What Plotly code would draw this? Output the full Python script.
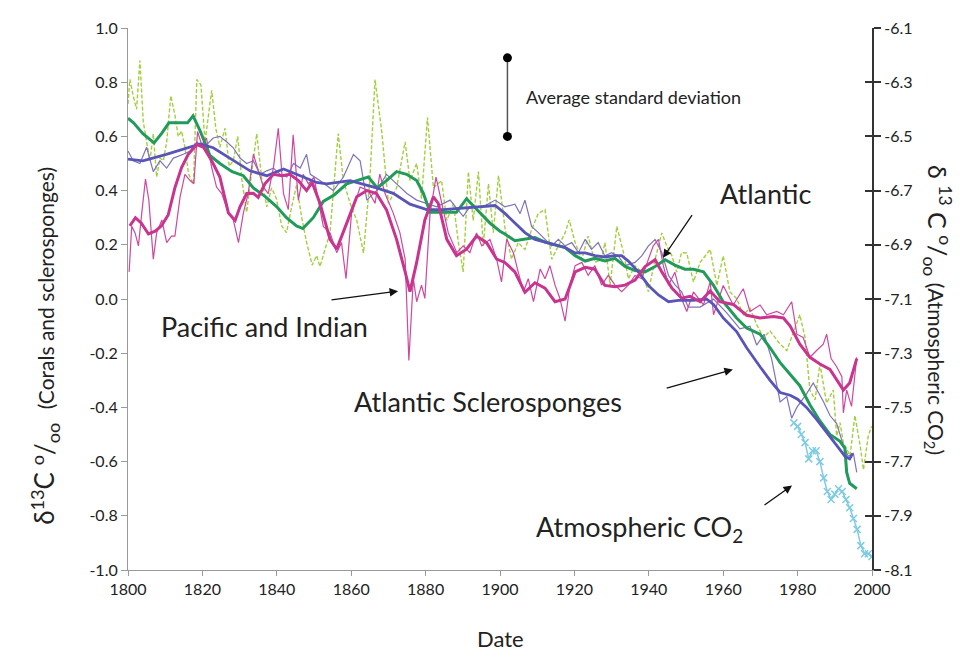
import plotly.graph_objects as go

# ---------------- data ----------------
atl_raw_years = [1800.0, 1800.5, 1801.4, 1802.3, 1803.2, 1804.1, 1805.0, 1805.9, 1806.8, 1807.7,
                 1808.6, 1809.5, 1810.4, 1811.5, 1812.6, 1813.5, 1814.4, 1815.3, 1816.3, 1817.6,
                 1818.5, 1819.6, 1820.7, 1821.6, 1822.5, 1823.6, 1824.7, 1826.1, 1827.2, 1828.3,
                 1829.5, 1830.6, 1831.9, 1833.2, 1834.6, 1835.9, 1837.3, 1838.6, 1839.9, 1841.3,
                 1842.6, 1844.0, 1845.3, 1846.7, 1848.0, 1849.5, 1850.7, 1851.6, 1854.3, 1856.5,
                 1857.9, 1859.7, 1861.5, 1863.3, 1865.0, 1866.4, 1868.2, 1870.0, 1872.2, 1874.5,
                 1875.8, 1877.6, 1878.9, 1880.5, 1882.1, 1884.3, 1885.7, 1887.5, 1888.8, 1890.1,
                 1891.5, 1892.8, 1894.2, 1895.5, 1896.9, 1898.2, 1899.6, 1901.4, 1903.1, 1904.9,
                 1906.7, 1908.5, 1910.3, 1912.1, 1913.9, 1915.7, 1917.5, 1918.6, 1920.2, 1922.0,
                 1923.7, 1925.5, 1927.3, 1928.2, 1929.6, 1931.4, 1933.2, 1934.5, 1936.3, 1938.1,
                 1939.9, 1941.7, 1943.5, 1944.8, 1946.2, 1947.5, 1948.8, 1950.2, 1952.0, 1953.8,
                 1956.5, 1958.3, 1960.0, 1961.8, 1963.6, 1965.4, 1967.2, 1969.0, 1970.8, 1972.6,
                 1975.3, 1977.1, 1978.9, 1980.6, 1982.0, 1983.3, 1984.7, 1986.0, 1987.8, 1989.6,
                 1990.5, 1991.4, 1992.3, 1994.1, 1995.4, 1996.8, 1997.7, 1999.0, 1999.9]
atl_raw_vals = [0.72, 0.81, 0.75, 0.70, 0.88, 0.655, 0.58, 0.51, 0.61, 0.45,
                0.52, 0.51, 0.58, 0.75, 0.68, 0.60, 0.62, 0.56, 0.46, 0.425,
                0.81, 0.79, 0.58, 0.68, 0.77, 0.63, 0.56, 0.63, 0.49, 0.51,
                0.60, 0.44, 0.32, 0.46, 0.61, 0.45, 0.34, 0.41, 0.37, 0.27,
                0.245, 0.34, 0.42, 0.30, 0.21, 0.125, 0.16, 0.12, 0.245, 0.61,
                0.437, 0.353, 0.29, 0.17, 0.437, 0.81, 0.62, 0.353, 0.41, 0.58,
                0.437, 0.50, 0.37, 0.67, 0.41, 0.437, 0.29, 0.353, 0.21, 0.10,
                0.47, 0.29, 0.47, 0.196, 0.425, 0.245, 0.455, 0.256, 0.147, 0.208,
                0.183, 0.256, 0.316, 0.33, 0.147, 0.196, 0.244, 0.292, 0.208, 0.147,
                0.232, 0.135, 0.147, 0.208, 0.051, 0.268, 0.171, 0.075, 0.123, 0.099,
                0.027, 0.147, 0.244, 0.196, 0.16, 0.099, 0.171, 0.17, 0.063, 0.135,
                0.183, 0.05, 0.159, 0.026, 0.002, -0.058, -0.034, -0.094, -0.142, -0.118,
                -0.167, -0.19, -0.118, -0.058, -0.142, -0.336, -0.372, -0.24, -0.384, -0.336,
                -0.505, -0.456, -0.53, -0.578, -0.43, -0.54, -0.63, -0.505, -0.47]

atl_smooth_years = [1800, 1801.5, 1804, 1807, 1809, 1811, 1814, 1816, 1817.5, 1819.4,
                    1822, 1824.7, 1828, 1831, 1833.7, 1837, 1840, 1842.6, 1845.3, 1847,
                    1849.8, 1852.5, 1855.5, 1858.8, 1861.5, 1864.6, 1867, 1869.5, 1872.2, 1874.9,
                    1877.6, 1879.4, 1881.2, 1884.8, 1888.3, 1891, 1893.7, 1897.3, 1900, 1901.3,
                    1904, 1906.7, 1909.4, 1912.1, 1914.8, 1917.5, 1920.2, 1922.9, 1925.5, 1928.2,
                    1930.9, 1933.6, 1936.3, 1939, 1941.7, 1944.4, 1947, 1949.7, 1952, 1954.7,
                    1957.4, 1960, 1963.6, 1966.3, 1969.9, 1972.6, 1975.3, 1978, 1980.6, 1983.3,
                    1986, 1988.7, 1991.4, 1992.7, 1993.2, 1994, 1995.9]
atl_smooth_vals = [0.667, 0.65, 0.61, 0.576, 0.61, 0.65, 0.65, 0.65, 0.676, 0.62,
                   0.53, 0.50, 0.47, 0.455, 0.41, 0.377, 0.34, 0.30, 0.27, 0.26,
                   0.30, 0.36, 0.385, 0.425, 0.437, 0.45, 0.41, 0.437, 0.47, 0.46,
                   0.437, 0.39, 0.32, 0.32, 0.32, 0.37, 0.33, 0.28, 0.25, 0.24,
                   0.215, 0.22, 0.227, 0.21, 0.20, 0.19, 0.16, 0.14, 0.15, 0.14,
                   0.15, 0.12, 0.105, 0.10, 0.12, 0.145, 0.125, 0.11, 0.11, 0.10,
                   0.05, -0.01, -0.07, -0.107, -0.13, -0.18, -0.235, -0.28, -0.32, -0.39,
                   -0.45, -0.50, -0.525, -0.55, -0.64, -0.68, -0.70]

scl_raw_years = [1800, 1801.4, 1803.2, 1805, 1806.8, 1808.6, 1810.4, 1812.2, 1814.9, 1816.7,
                 1818.5, 1820.3, 1822.9, 1824.7, 1826.5, 1828.3, 1830.1, 1831.9, 1833.7, 1835.5,
                 1837.3, 1839.1, 1840.9, 1842.7, 1844.5, 1846.3, 1848.0, 1849.0, 1851.6, 1855.2,
                 1857.9, 1860.6, 1862.4, 1864.2, 1866.8, 1869.5, 1872.2, 1874.9, 1877.6, 1880.3,
                 1883, 1886.6, 1890.1, 1891.9, 1895.5, 1898.7, 1901.3, 1904, 1905.4, 1906.7,
                 1908.5, 1910.3, 1912.1, 1913.9, 1915.7, 1917.5, 1919.3, 1921.1, 1922.9, 1924.6,
                 1926.4, 1928.2, 1930.0, 1931.8, 1933.6, 1936.3, 1938.1, 1939.9, 1941.7, 1943.5,
                 1945.3, 1947.1, 1948.8, 1950.6, 1953.8, 1957.4, 1960.9, 1964.5, 1967.2, 1969,
                 1971, 1973, 1975.3, 1977.1, 1978.4, 1979.8, 1982.4, 1984.2, 1987.0, 1988.7,
                 1990.5, 1992.3, 1993.6, 1995, 1995.9]
scl_raw_vals = [0.546, 0.51, 0.50, 0.56, 0.47, 0.51, 0.483, 0.52, 0.534, 0.546,
                0.58, 0.558, 0.594, 0.60, 0.58, 0.558, 0.52, 0.50, 0.51, 0.46,
                0.473, 0.483, 0.46, 0.45, 0.50, 0.483, 0.534, 0.46, 0.437, 0.40,
                0.45, 0.533, 0.51, 0.365, 0.40, 0.46, 0.425, 0.39, 0.365, 0.353,
                0.34, 0.365, 0.305, 0.34, 0.34, 0.365, 0.34, 0.35, 0.315, 0.365,
                0.268, 0.245, 0.22, 0.196, 0.22, 0.196, 0.208, 0.171, 0.22, 0.183,
                0.208, 0.159, 0.171, 0.159, 0.123, 0.135, 0.159, 0.196, 0.22, 0.171,
                0.087, 0.051, 0.027, -0.03, -0.03, 0.0, -0.05, -0.11, -0.10, -0.17,
                -0.13, -0.22, -0.38, -0.36, -0.44, -0.40, -0.35, -0.31, -0.38, -0.43,
                -0.46, -0.54, -0.58, -0.57, -0.64]

scl_smooth_years = [1800, 1804, 1810.3, 1815.8, 1819.4, 1822.9, 1828.3, 1832.8, 1837.3, 1841.8,
                    1846.3, 1850.7, 1853.4, 1859.7, 1866.8, 1871.3, 1875.8, 1880.3, 1884.8, 1889.2,
                    1893.7, 1898.7, 1901.4, 1904, 1906.7, 1909.4, 1912.1, 1914.8, 1917.5, 1920.2,
                    1922.9, 1925.5, 1928.2, 1930.9, 1932.7, 1934.5, 1937.2, 1939.9, 1942.6, 1945.3,
                    1948, 1951.9, 1955.5, 1957.4, 1960, 1963.6, 1966.3, 1969.9, 1972.6, 1975.3,
                    1978, 1980, 1982.4, 1985.1, 1987.8, 1990.5, 1992.7, 1994, 1994.8]
scl_smooth_vals = [0.516, 0.51, 0.534, 0.558, 0.572, 0.558, 0.51, 0.473, 0.455, 0.48,
                   0.455, 0.43, 0.425, 0.437, 0.41, 0.39, 0.35, 0.33, 0.33, 0.335,
                   0.34, 0.345, 0.315, 0.28, 0.245, 0.22, 0.21, 0.20, 0.19, 0.17,
                   0.17, 0.16, 0.155, 0.16, 0.16, 0.14, 0.10, 0.05, 0.015, -0.01,
                   -0.005, -0.005, 0.0, -0.02, -0.07, -0.12, -0.18, -0.25, -0.30, -0.345,
                   -0.355, -0.37, -0.40, -0.444, -0.49, -0.54, -0.58, -0.59, -0.57]

pac_raw_years = [1800.3, 1801.0, 1801.9, 1802.8, 1803.7, 1804.7, 1805.6, 1806.8, 1807.7, 1809.1,
                 1810.4, 1811.7, 1812.6, 1814.0, 1815.3, 1816.7, 1817.7, 1818.7, 1819.8, 1821.1,
                 1822.5, 1823.8, 1825.2, 1827.0, 1828.3, 1829.7, 1831.0, 1832.3, 1833.7, 1835.0,
                 1836.4, 1837.7, 1839.1, 1840.4, 1841.8, 1843.1, 1844.4, 1845.8, 1847.1, 1848.5,
                 1850.0, 1852.5, 1854.3, 1856.1, 1857.4, 1858.6, 1860.1, 1862.4, 1864.6, 1866.4,
                 1867.7, 1869.1, 1871.3, 1873.1, 1874.5, 1875.5, 1876.7, 1877.6, 1878.9, 1879.8,
                 1881.2, 1882.8, 1884.3, 1886.1, 1888.4, 1890.1, 1891.9, 1893.7, 1895.1, 1897.3,
                 1899.1, 1900.4, 1901.8, 1903.6, 1904.9, 1906.3, 1907.6, 1909.0, 1910.8, 1912.1,
                 1913.4, 1914.8, 1916.1, 1917.5, 1918.8, 1920.2, 1922.0, 1923.7, 1925.5, 1927.3,
                 1929.1, 1930.9, 1932.7, 1934.5, 1936.3, 1938.1, 1939.9, 1941.2, 1942.6, 1943.9,
                 1945.3, 1947.0, 1948.8, 1950.2, 1952.0, 1954.7, 1956.5, 1957.4, 1960.0, 1962.7,
                 1965.4, 1967.2, 1969.9, 1971.7, 1974.4, 1976.2, 1978.4, 1979.8, 1981.5, 1983.3,
                 1985.1, 1986.9, 1987.8, 1989.0, 1990.5, 1991.9, 1992.3, 1993.2, 1994.5, 1995.9]
pac_raw_vals = [0.10, 0.268, 0.244, 0.196, 0.317, 0.443, 0.365, 0.147, 0.244, 0.292,
                0.208, 0.232, 0.232, 0.377, 0.46, 0.437, 0.425, 0.618, 0.57, 0.594,
                0.485, 0.413, 0.389, 0.317, 0.292, 0.208, 0.317, 0.389, 0.534, 0.473,
                0.413, 0.389, 0.485, 0.63, 0.389, 0.33, 0.606, 0.365, 0.46, 0.425,
                0.45, 0.268, 0.244, 0.171, 0.208, 0.075, 0.317, 0.413, 0.40, 0.353,
                0.461, 0.389, 0.317, 0.244, 0.147, -0.227, 0.075, -0.01, 0.051, 0.002,
                0.317, 0.45, 0.353, 0.244, 0.171, 0.196, 0.171, 0.244, 0.196, 0.22,
                0.147, 0.063, 0.22, 0.171, 0.099, 0.027, 0.075, -0.01, 0.111, 0.075,
                0.123, 0.051, 0.002, -0.082, 0.051, 0.123, 0.135, 0.087, 0.123, 0.051,
                0.087, 0.051, 0.027, 0.051, 0.087, 0.075, 0.147, 0.196, 0.22, 0.123,
                0.051, 0.099, 0.002, -0.046, 0.026, -0.022, 0.063, -0.058, 0.05, -0.022,
                0.038, -0.046, -0.022, -0.058, -0.046, -0.058, -0.01, -0.13, -0.142, -0.215,
                -0.19, -0.167, -0.13, -0.22, -0.25, -0.287, -0.42, -0.336, -0.396, -0.215]

pac_smooth_years = [1800.5, 1802, 1803.6, 1805.5, 1807.3, 1809, 1810.8, 1812.6, 1814.4, 1816.2,
                    1818.5, 1820.3, 1822.5, 1824.7, 1827, 1828.8, 1830.1, 1831.9, 1833.7, 1835,
                    1836.8, 1839.1, 1841.3, 1843.5, 1845.8, 1848, 1849.5, 1851.6, 1854.3, 1856.1,
                    1858.8, 1861.5, 1864.2, 1866.8, 1869.5, 1872.2, 1874.5, 1875.8, 1877.6, 1879.8,
                    1882.1, 1883.4, 1885.7, 1888.3, 1891.0, 1893.7, 1896.4, 1899.1, 1901.3, 1904.0,
                    1906.7, 1909.4, 1912.1, 1914.8, 1917.5, 1920.2, 1922.9, 1925.5, 1928.2, 1930.9,
                    1933.6, 1936.3, 1939.0, 1941.7, 1943.5, 1946.2, 1948.8, 1951.1, 1953.8, 1956.5,
                    1959.1, 1962.7, 1966.3, 1969.9, 1973.5, 1976.2, 1978.0, 1980.6, 1983.3, 1986.0,
                    1988.7, 1990.5, 1992.3, 1994.0, 1995.0, 1995.9]
pac_smooth_vals = [0.27, 0.30, 0.28, 0.24, 0.25, 0.27, 0.31, 0.41, 0.485, 0.534,
                   0.57, 0.56, 0.51, 0.45, 0.317, 0.29, 0.34, 0.389, 0.39, 0.375,
                   0.425, 0.46, 0.455, 0.46, 0.437, 0.40, 0.43, 0.353, 0.22, 0.184,
                   0.28, 0.377, 0.40, 0.389, 0.329, 0.22, 0.10, 0.027, 0.135, 0.292,
                   0.377, 0.353, 0.22, 0.16, 0.184, 0.232, 0.208, 0.147, 0.135, 0.10,
                   0.025, 0.06, 0.04, -0.01, 0.0, 0.10, 0.117, 0.11, 0.05, 0.045,
                   0.051, 0.07, 0.12, 0.145, 0.10, 0.04, 0.003, 0.01, -0.01, 0.03,
                   -0.01, -0.02, -0.06, -0.07, -0.065, -0.07, -0.10, -0.167, -0.215, -0.24,
                   -0.26, -0.30, -0.336, -0.31, -0.26, -0.22]

co2_years = [1979, 1980, 1981, 1982, 1983, 1984, 1985, 1986, 1987, 1988, 1989,
             1990, 1991, 1992, 1993, 1994, 1995, 1996, 1997, 1998, 1999, 2000]
co2_vals = [-7.557, -7.57, -7.60, -7.63, -7.69, -7.66, -7.66, -7.70, -7.76, -7.81, -7.84,
            -7.82, -7.80, -7.81, -7.84, -7.87, -7.91, -7.95, -8.01, -8.04, -8.04, -8.05]

std_bar_years = [1902, 1902]
std_bar_vals = [0.60, 0.89]

x_ticks = [1800, 1820, 1840, 1860, 1880, 1900, 1920, 1940, 1960, 1980, 2000]
y_left_ticks = [1.0, 0.8, 0.6, 0.4, 0.2, 0.0, -0.2, -0.4, -0.6, -0.8, -1.0]
y_right_ticks = [-6.1, -6.3, -6.5, -6.7, -6.9, -7.1, -7.3, -7.5, -7.7, -7.9, -8.1]

# ---------------- figure ----------------
FONT = "Lato, 'Open Sans', sans-serif"
fig = go.Figure()

fig.add_trace(go.Scatter(x=atl_raw_years, y=atl_raw_vals, mode="lines",
                         line=dict(color="#a2cf3e", width=1.4, dash="4px,2px")))
fig.add_trace(go.Scatter(x=scl_raw_years, y=scl_raw_vals, mode="lines",
                         line=dict(color="#7f74b8", width=1.2)))
fig.add_trace(go.Scatter(x=pac_raw_years, y=pac_raw_vals, mode="lines",
                         line=dict(color="#cc49a0", width=1.2)))
fig.add_trace(go.Scatter(x=atl_smooth_years, y=atl_smooth_vals, mode="lines",
                         line=dict(color="#219a5a", width=3)))
fig.add_trace(go.Scatter(x=scl_smooth_years, y=scl_smooth_vals, mode="lines",
                         line=dict(color="#5954b8", width=2.8)))
fig.add_trace(go.Scatter(x=pac_smooth_years, y=pac_smooth_vals, mode="lines",
                         line=dict(color="#c8348e", width=3)))
fig.add_trace(go.Scatter(x=co2_years, y=co2_vals, mode="lines+markers", yaxis="y2",
                         line=dict(color="#7fcbe3", width=1.5),
                         marker=dict(symbol="x-thin", size=7,
                                     line=dict(color="#7fcbe3", width=1.5))))
fig.add_trace(go.Scatter(x=std_bar_years, y=std_bar_vals, mode="lines+markers",
                         line=dict(color="#555555", width=1.5),
                         marker=dict(color="black", size=9)))
# invisible trace for the inner tick marks of the right axis
fig.add_trace(go.Scatter(x=[None], y=[None], yaxis="y3", mode="lines"))

def lab(x, y, text, size=27, xanchor="center"):
    fig.add_annotation(x=x, y=y, xref="x", yref="y", text=text, showarrow=False,
                       xanchor=xanchor, font=dict(family=FONT, size=size, color="#222"))

def arrow(x0, y0, x1, y1):
    fig.add_annotation(x=x1, y=y1, ax=x0, ay=y0, xref="x", yref="y", axref="x", ayref="y",
                       text="", showarrow=True, arrowhead=2, arrowsize=1.3,
                       arrowwidth=1.3, arrowcolor="#111")

lab(1906.5, 0.746, "Average standard deviation", size=18, xanchor="left")
lab(1971.5, 0.39, "Atlantic")
arrow(1951.9, 0.315, 1943.8, 0.152)
lab(1836.8, -0.10, "Pacific and Indian")
arrow(1854.3, -0.004, 1872.6, 0.029)
lab(1896.8, -0.377, "Atlantic Sclerosponges")
arrow(1944.4, -0.33, 1962.6, -0.26)
lab(1937.6, -0.848, "Atmospheric CO<sub>2</sub>")
arrow(1970.7, -0.764, 1978.5, -0.688)

# axis titles
fig.add_annotation(xref="paper", yref="paper", x=-0.112, y=0.413, textangle=-90,
                   xanchor="center", yanchor="middle", showarrow=False,
                   text="δ<sup>13</sup>C <sup>o</sup>/<sub>oo</sub>  "
                        "<span style='font-size:21px'>(Corals and sclerosponges)</span>",
                   font=dict(family=FONT, size=26, color="#222"))
fig.add_annotation(xref="paper", yref="paper", x=1.087, y=0.48, textangle=90,
                   xanchor="center", yanchor="middle", showarrow=False,
                   text="δ <sup>13</sup> C <sup>o</sup>/<sub>oo</sub> "
                        "<span style='font-size:21px'>(Atmospheric CO<sub>2</sub>)</span>",
                   font=dict(family=FONT, size=25, color="#222"))
fig.add_annotation(xref="paper", yref="paper", x=0.5, y=-0.126, showarrow=False,
                   xanchor="center", yanchor="middle",
                   text="Date", font=dict(family=FONT, size=22, color="#222"))

fig.update_layout(
    width=950, height=650,
    margin=dict(l=120, r=86, t=10, b=88),
    paper_bgcolor="white", plot_bgcolor="white",
    showlegend=False,
    font=dict(family=FONT, size=16, color="#222"),
    xaxis=dict(range=[1800, 2000], tickvals=x_ticks, ticktext=[str(v) for v in x_ticks],
               showgrid=False, zeroline=False, showline=True, linecolor="#999",
               linewidth=1.2, ticks="outside", ticklen=5, tickcolor="#999",
               tickfont=dict(size=16), ticklabeloverflow="allow"),
    yaxis=dict(range=[-1.0, 1.0], tickvals=y_left_ticks,
               ticktext=[f"{v:.1f}" for v in y_left_ticks],
               showgrid=False, zeroline=False, showline=True, linecolor="#999",
               linewidth=1.2, ticks="outside", ticklen=6, tickcolor="#999",
               tickfont=dict(size=16), ticklabeloverflow="allow"),
    yaxis2=dict(range=[-8.1, -6.1], overlaying="y", side="right", tickvals=y_right_ticks,
                ticktext=[f"{v:.1f}" for v in y_right_ticks],
                showgrid=False, zeroline=False, showline=True, linecolor="#333",
                linewidth=2, ticks="outside", ticklen=7, tickcolor="#333", tickwidth=2,
                tickfont=dict(size=16), ticklabeloverflow="allow"),
    yaxis3=dict(range=[-8.1, -6.1], overlaying="y", side="right", tickvals=y_right_ticks,
                showticklabels=False, showgrid=False, zeroline=False, showline=False,
                ticks="inside", ticklen=7, tickcolor="#333", tickwidth=2),
)

fig.write_html("out.html")
